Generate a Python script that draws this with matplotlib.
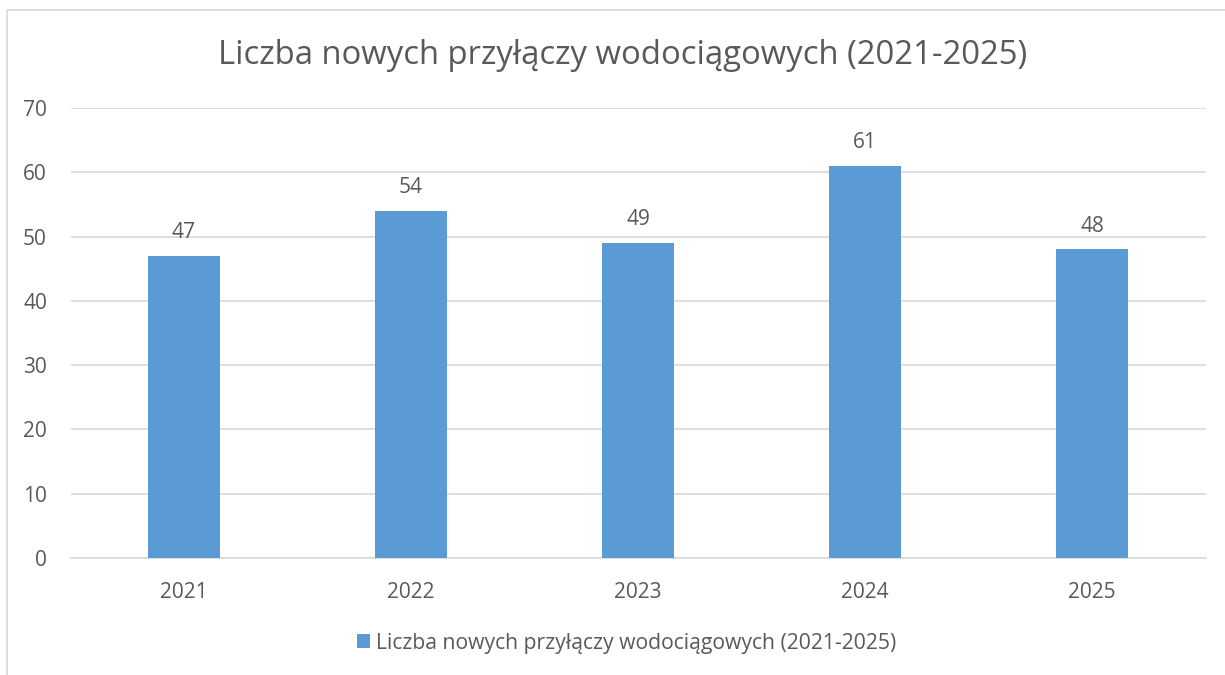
import matplotlib
matplotlib.use("Agg")
import matplotlib.pyplot as plt
from matplotlib.patches import Rectangle

years = ["2021", "2022", "2023", "2024", "2025"]
values = [47, 54, 49, 61, 48]
series_name = "Liczba nowych przyłączy wodociągowych (2021-2025)"
title = "Liczba nowych przyłączy wodociągowych (2021-2025)"
yticks = [0, 10, 20, 30, 40, 50, 60, 70]

plt.rcParams['font.family'] = ['Open Sans', 'DejaVu Sans']
text_color = "#595959"
bar_color = "#5B9BD5"
grid_color = "#D9D9D9"

W, H = 1225, 675
fig = plt.figure(figsize=(W/100, H/100), dpi=100)
ax = fig.add_axes([70.5/W, 1-558/H, (1205.5-70.5)/W, (558-108)/H])

x = list(range(len(years)))
bars = ax.bar(x, values, width=0.317, color=bar_color, label=series_name, zorder=3)
for xi, v in zip(x, values):
    ax.text(xi, v + 2.0, str(v), ha='center', va='bottom', fontsize=15, color=text_color)

ax.set_xlim(-0.5, len(years)-0.5)
ax.set_ylim(0, 70)
ax.set_yticks(yticks)
ax.set_xticks(x)
ax.set_xticklabels(years)
ax.tick_params(axis='both', length=0, labelsize=15, colors=text_color)
ax.tick_params(axis='y', pad=17)
ax.tick_params(axis='x', pad=17)
ax.yaxis.grid(True, color=grid_color, linewidth=1.2, zorder=0)
for s in ['top', 'right', 'left']:
    ax.spines[s].set_visible(False)
ax.spines['bottom'].set_color(grid_color)
ax.spines['bottom'].set_linewidth(1.2)

fig.text(623/W, 1-55/H, title, ha='center', va='center', fontsize=23.7, color=text_color)

leg = fig.legend(handles=[bars], labels=[series_name], loc='center', bbox_to_anchor=(627/W, 1-643/H),
                 frameon=False, fontsize=15.2, handlelength=0.6, handleheight=0.6, handletextpad=0.3)
for t in leg.get_texts():
    t.set_color(text_color)

fig.patches.append(Rectangle((7/W, -0.1), 1.2, 1-10/H+0.1, transform=fig.transFigure,
                             fill=False, edgecolor="#D9D9D9", linewidth=1.2))

fig.savefig("out.png", dpi=100)
